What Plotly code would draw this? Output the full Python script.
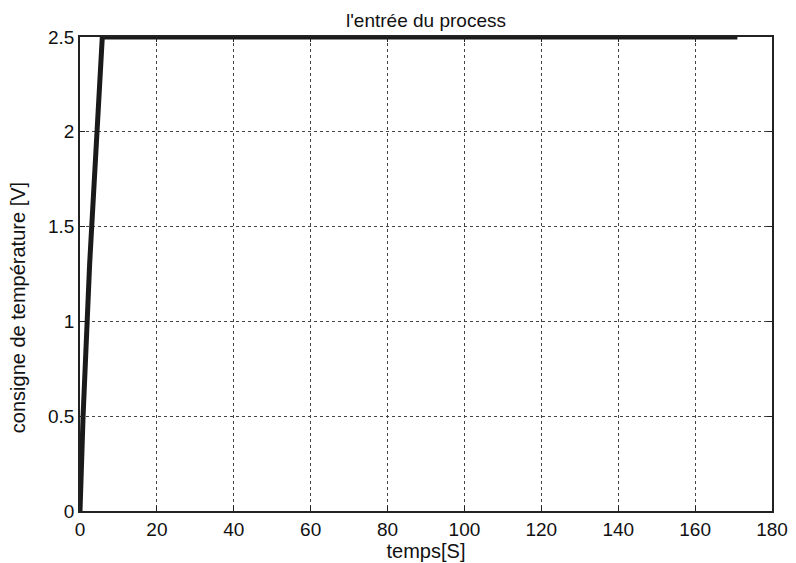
import plotly.graph_objects as go

temps = [0, 0.8, 2.5, 4.5, 5.8, 171]
consigne = [0, 0.5, 1.3, 2.1, 2.5, 2.5]
x_ticks = [0, 20, 40, 60, 80, 100, 120, 140, 160, 180]
y_ticks = [0, 0.5, 1, 1.5, 2, 2.5]
y_tick_text = ["0", "0.5", "1", "1.5", "2", "2.5"]

FONT = "Arial, Liberation Sans, sans-serif"

fig = go.Figure()
fig.add_trace(go.Scatter(x=temps, y=consigne, mode="lines",
                         line=dict(color="#1a1a1a", width=5), showlegend=False))

axis_common = dict(showline=True, linecolor="#222", linewidth=1.5, mirror="ticks",
                   ticks="inside", ticklen=5, tickcolor="#222",
                   showgrid=True, gridcolor="#444", griddash="dot", gridwidth=1,
                   zeroline=False, automargin=False,
                   tickfont=dict(family=FONT, size=19, color="#111"))

fig.update_xaxes(range=[0, 180], tickvals=x_ticks, **axis_common,
                 title=dict(text="temps[S]", font=dict(family=FONT, size=20, color="#111"), standoff=0))
fig.update_yaxes(range=[0, 2.5], tickvals=y_ticks, ticktext=y_tick_text, **axis_common)

fig.add_annotation(text="consigne de température [V]", textangle=-90,
                   xref="paper", yref="paper", x=-0.0896, y=0.43,
                   xanchor="center", yanchor="middle", showarrow=False,
                   font=dict(family=FONT, size=20, color="#111"))

fig.update_layout(
    width=788, height=555,
    margin=dict(l=72, r=24, t=29, b=52),
    paper_bgcolor="white", plot_bgcolor="white",
    title=dict(text="l'entrée du process", x=0.5, xref="paper", xanchor="center",
               y=0.99, yref="container", yanchor="top",
               font=dict(family=FONT, size=19, color="#111")),
)

fig.write_html("out.html")
